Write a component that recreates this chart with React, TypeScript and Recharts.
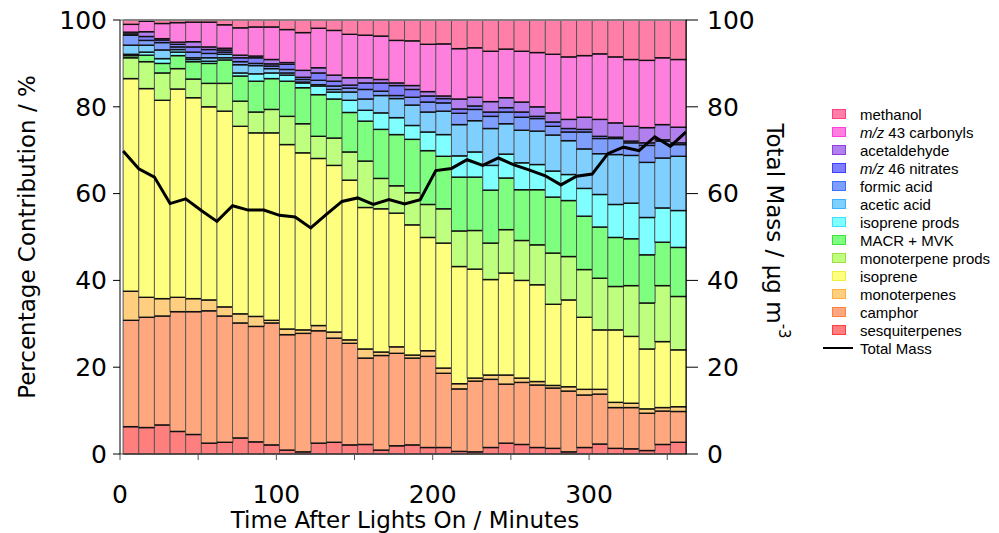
import React from "react";
import {
	Bar,
	ComposedChart,
	Legend,
	Line,
	ReferenceLine,
	XAxis,
	YAxis,
} from "recharts";

// bar midpoints, minutes after lights on
const minutes = [
	7, 17, 27, 37, 47, 57, 67, 77, 87, 97, 107, 117, 127, 137, 147, 157, 167, 177,
	187, 197, 207, 217, 227, 237, 247, 257, 267, 277, 287, 297, 307, 317, 327, 337,
	347, 357,
];

// total mass is logged at the bar edges
const massMinutes = [
	2, 12, 22, 32, 42, 52, 62, 72, 82, 92, 102, 112, 122, 132, 142, 152, 162, 172,
	182, 192, 202, 212, 222, 232, 242, 252, 262, 272, 282, 292, 302, 312, 322, 332,
	342, 352, 362,
];
const totalMass = [
	69.8, 65.7, 63.8, 57.7, 58.8, 56.1, 53.6, 57.2, 56.2, 56.2, 55.0, 54.6, 52.1,
	55.2, 58.2, 59.0, 57.5, 58.6, 57.6, 58.6, 65.3, 65.8, 67.8, 66.5, 68.2, 66.6,
	65.4, 64.1, 62.0, 64.0, 64.5, 69.2, 70.7, 69.9, 73.1, 70.9, 74.2,
];

// percentage contributions, bottom of the stack first
const sesquiterpenes = [
	6.3, 6.1, 6.7, 5.2, 4.5, 2.5, 2.7, 3.7, 2.8, 2.1, 0.9, 0.5, 2.5, 2.7, 2.1, 2.2,
	0.9, 1.9, 2.1, 1.5, 1.5, 0.6, 0.5, 1.5, 2.5, 2.2, 1.5, 1.3, 0.5, 1.5, 2.3, 1.3,
	1.2, 0.8, 2.2, 2.7,
];
const camphor = [
	24.5, 25.4, 25.1, 27.6, 28.3, 30.5, 29.1, 26.5, 26.6, 28.1, 26.6, 27.3, 25.9,
	24.0, 23.4, 19.9, 21.8, 21.3, 20.0, 21.0, 17.1, 14.4, 16.3, 15.7, 13.6, 14.3,
	14.4, 13.9, 14.0, 12.1, 11.5, 9.4, 9.5, 8.6, 7.7, 7.1,
];
const monoterpenes = [
	6.7, 4.6, 4.0, 3.3, 3.0, 2.5, 2.1, 2.1, 2.3, 0.6, 1.3, 0.8, 1.2, 1.4, 0.8, 2.1,
	0.8, 1.5, 0.7, 1.3, 1.2, 1.2, 0.7, 1.0, 2.1, 1.0, 0.8, 0.6, 1.0, 1.3, 1.1, 1.2,
	1.0, 1.0, 0.8, 1.1,
];
const isoprene = [
	49.0, 48.1, 45.7, 48.0, 46.3, 44.5, 45.1, 43.2, 42.3, 43.2, 42.5, 40.8, 38.5,
	38.4, 36.8, 32.6, 33.0, 30.8, 30.0, 26.1, 28.8, 27.0, 25.1, 22.0, 23.5, 22.5,
	22.3, 18.7, 20.0, 16.6, 13.7, 16.7, 15.4, 13.8, 15.2, 13.1,
];
const monoterpeneProds = [
	4.8, 6.2, 6.3, 4.7, 4.3, 5.4, 6.4, 5.8, 4.8, 5.4, 6.5, 6.7, 5.1, 6.3, 6.5, 10.7,
	7.0, 6.3, 7.4, 7.6, 7.9, 8.2, 8.9, 8.4, 10.0, 9.2, 9.2, 11.8, 10.0, 11.0, 11.9,
	10.0, 11.7, 10.6, 12.9, 12.3,
];
const macrMvk = [
	0.5, 1.5, 2.2, 3.0, 4.0, 4.6, 5.4, 5.8, 7.1, 7.1, 8.1, 8.3, 9.6, 9.0, 9.1, 9.2,
	11.3, 11.8, 12.3, 12.4, 12.1, 12.4, 12.3, 12.2, 11.9, 11.7, 12.7, 12.9, 12.9,
	12.3, 11.8, 11.3, 10.8, 11.1, 10.0, 11.3,
];
const isopreneProds = [
	0.3, 0.7, 1.1, 0.8, 0.5, 0.5, 0.5, 0.7, 1.7, 1.3, 1.4, 1.1, 2.0, 1.6, 2.8, 2.5,
	3.8, 3.9, 3.2, 4.3, 5.0, 4.9, 5.8, 5.7, 5.5, 6.2, 5.8, 6.0, 6.0, 6.4, 7.5, 7.6,
	8.2, 8.6, 7.9, 8.5,
];
const aceticAcid = [
	2.1, 1.6, 2.0, 0.6, 0.4, 0.8, 0.8, 1.9, 1.9, 1.0, 0.5, 0.2, 0.3, 0.6, 1.9, 2.6,
	4.0, 4.4, 4.7, 4.6, 5.4, 7.2, 7.2, 8.5, 7.0, 7.5, 7.7, 8.3, 7.8, 9.1, 9.4, 11.5,
	11.0, 12.7, 11.5, 12.5,
];
const formicAcid = [
	2.3, 1.1, 1.7, 0.6, 1.3, 1.0, 0.5, 0.7, 0.5, 0.6, 0.8, 0.6, 1.0, 0.8, 0.9, 2.2,
	1.0, 0.7, 1.8, 2.3, 1.9, 2.6, 2.6, 2.8, 2.7, 3.0, 2.9, 2.0, 2.0, 3.9, 3.5, 3.7,
	2.9, 3.9, 3.9, 2.7,
];
const nitrates46 = [
	0.3, 0.9, 0.6, 0.6, 1.2, 0.9, 0.5, 0.9, 1.3, 0.5, 1.2, 0.5, 1.7, 1.1, 0.7, 1.5,
	1.9, 2.3, 1.8, 1.4, 1.0, 1.0, 0.8, 1.0, 1.0, 1.2, 0.5, 1.0, 0.8, 0.6, 0.5, 0.3,
	0.4, 0.6, 0.3, 0.4,
];
const acetaldehyde = [
	0.4, 1.1, 0.3, 0.5, 1.2, 0.6, 0.4, 0.6, 0.4, 1.0, 0.4, 1.6, 1.2, 1.4, 1.7, 1.2,
	0.8, 0.6, 0.9, 1.0, 0.6, 2.3, 2.0, 2.4, 2.3, 2.3, 2.2, 2.1, 2.1, 2.8, 3.9, 3.3,
	3.4, 3.5, 3.5, 3.6,
];
const carbonyls43 = [
	1.8, 2.4, 3.5, 4.5, 4.5, 5.7, 5.4, 6.3, 6.7, 7.5, 7.6, 8.7, 9.1, 10.3, 10.0,
	9.8, 10.0, 9.8, 10.3, 10.9, 12.0, 11.6, 11.4, 11.6, 11.2, 11.7, 12.5, 13.5,
	14.4, 14.2, 15.1, 15.2, 15.4, 15.5, 15.4, 15.6,
];
const methanol = [
	1.0, 0.3, 0.8, 0.6, 0.5, 0.5, 1.1, 1.8, 1.6, 1.6, 2.2, 2.9, 1.9, 2.4, 3.3, 3.5,
	3.7, 4.7, 4.8, 5.6, 5.5, 6.6, 6.4, 7.2, 6.7, 7.2, 7.5, 7.9, 8.5, 8.2, 7.8, 8.5,
	9.1, 9.3, 8.7, 9.1,
];

const series = [
	{ key: "sesq", name: "sesquiterpenes", values: sesquiterpenes, fill: "#ff7f7f", edge: "#ff3f3f" },
	{ key: "camphor", name: "camphor", values: camphor, fill: "#ffa87f", edge: "#ff7f3f" },
	{ key: "mono", name: "monoterpenes", values: monoterpenes, fill: "#ffcf7f", edge: "#ffaf3f" },
	{ key: "isoprene", name: "isoprene", values: isoprene, fill: "#ffff7f", edge: "#efef3f" },
	{ key: "monoProds", name: "monoterpene prods", values: monoterpeneProds, fill: "#bfff7f", edge: "#9fdf3f" },
	{ key: "macr", name: "MACR + MVK", values: macrMvk, fill: "#7fff7f", edge: "#3fdf3f" },
	{ key: "isoProds", name: "isoprene prods", values: isopreneProds, fill: "#7fffff", edge: "#3fdfff" },
	{ key: "acetic", name: "acetic acid", values: aceticAcid, fill: "#7fcfff", edge: "#3fafff" },
	{ key: "formic", name: "formic acid", values: formicAcid, fill: "#7f9fff", edge: "#3f6fff" },
	{ key: "nitrates", name: "m/z 46 nitrates", values: nitrates46, fill: "#7f7fff", edge: "#3f3fff" },
	{ key: "acetald", name: "acetaldehyde", values: acetaldehyde, fill: "#b27fef", edge: "#8f3fdf" },
	{ key: "carbonyls", name: "m/z 43 carbonyls", values: carbonyls43, fill: "#ff7fdf", edge: "#ff3fdf" },
	{ key: "methanol", name: "methanol", values: methanol, fill: "#ff7fa8", edge: "#ff3f7f" },
];

const barData = minutes.map((m, i) => {
	const row: { [key: string]: number } = { minute: m };
	series.forEach((s) => {
		row[s.key] = s.values[i];
	});
	return row;
});

const massData = massMinutes.map((t, i) => ({ t, mass: totalMass[i] }));

const FONT = "'DejaVu Sans', sans-serif";
const tickStyle = { fontFamily: FONT, fontSize: 25, fill: "#000" };

function Segment(props: any) {
	const { x, y, width, height, fill } = props;
	if (height == null || isNaN(height)) return null;
	return (
		<g>
			<rect x={x} y={y} width={width} height={Math.max(height, 0)} fill={fill} />
			<line x1={x} x2={x} y1={y} y2={y + height} stroke="#555" strokeWidth={1} />
			<line x1={x + width} x2={x + width} y1={y} y2={y + height} stroke="#555" strokeWidth={1} />
			<line x1={x} x2={x + width} y1={y} y2={y} stroke="#111" strokeWidth={1.4} />
			<line x1={x} x2={x + width} y1={y + height} y2={y + height} stroke="#111" strokeWidth={1.4} />
		</g>
	);
}

function LegendName({ name }: { name: string }) {
	if (name.startsWith("m/z")) {
		return (
			<span>
				<i>m/z</i>
				{name.slice(3)}
			</span>
		);
	}
	return <span>{name}</span>;
}

function ChartLegend() {
	return (
		<div style={{ fontFamily: "'Liberation Sans', Arial, sans-serif", fontSize: 15, color: "#000" }}>
			{[...series].reverse().map((s) => (
				<div key={s.key} style={{ display: "flex", alignItems: "center", height: 18 }}>
					<div style={{ width: 38, display: "flex" }}>
						<div
							style={{
								marginLeft: 10,
								width: 12,
								height: 8,
								background: s.fill,
								border: `1px solid ${s.edge}`,
							}}
						/>
					</div>
					<LegendName name={s.name} />
				</div>
			))}
			<div style={{ display: "flex", alignItems: "center", height: 18 }}>
				<div style={{ width: 38, display: "flex" }}>
					<div style={{ marginLeft: 1, width: 30, height: 2.5, background: "#000" }} />
				</div>
				<span>Total Mass</span>
			</div>
		</div>
	);
}

function LeftTitle({ viewBox }: any) {
	const cx = viewBox.x + 27;
	const cy = viewBox.y + viewBox.height / 2;
	return (
		<text
			x={cx}
			y={cy}
			transform={`rotate(-90 ${cx} ${cy})`}
			textAnchor="middle"
			dominantBaseline="central"
			fontFamily={FONT}
			fontSize={23}
			fill="#000"
		>
			Percentage Contribution / %
		</text>
	);
}

function RightTitle({ viewBox }: any) {
	const cx = viewBox.x + 89;
	const cy = viewBox.y + viewBox.height / 2 - 6;
	return (
		<text
			x={cx}
			y={cy}
			transform={`rotate(90 ${cx} ${cy})`}
			textAnchor="middle"
			dominantBaseline="central"
			fontFamily={FONT}
			fontSize={23}
			fill="#000"
		>
			Total Mass / μg m
			<tspan fontSize={15} dy={-9}>
				-3
			</tspan>
		</text>
	);
}

function BottomTitle({ viewBox }: any) {
	return (
		<text
			x={viewBox.x + viewBox.width / 2 + 2}
			y={viewBox.y + 74}
			textAnchor="middle"
			fontFamily={FONT}
			fontSize={23}
			fill="#000"
		>
			Time After Lights On / Minutes
		</text>
	);
}

export default function App() {
	return (
		<div style={{ position: "absolute", left: 0, top: 0, width: 999, height: 533, background: "#fff" }}>
			<ComposedChart
				width={999}
				height={533}
				data={barData}
				barCategoryGap={0}
				barGap={0}
				margin={{ top: 20, right: 233, bottom: 29, left: 0 }}
			>
				<XAxis
					xAxisId="cat"
					dataKey="minute"
					type="category"
					orientation="top"
					height={0}
					hide
					padding={{ left: 3.1, right: 0 }}
				/>
				<XAxis
					xAxisId="time"
					dataKey="t"
					type="number"
					domain={[0, 362]}
					allowDataOverflow
					ticks={[0, 50, 100, 150, 200, 250, 300, 350]}
					tickFormatter={(v: number) => (v % 100 === 0 ? String(v) : "")}
					tick={tickStyle}
					tickSize={6}
					tickMargin={25}
					height={50}
					stroke="#555"
					label={{ content: BottomTitle }}
				/>
				<YAxis
					yAxisId="left"
					domain={[0, 100]}
					ticks={[0, 20, 40, 60, 80, 100]}
					tick={tickStyle}
					tickSize={7}
					tickMargin={6}
					width={120}
					stroke="#000"
					label={{ content: LeftTitle }}
				/>
				<YAxis
					yAxisId="right"
					orientation="right"
					domain={[0, 100]}
					ticks={[0, 20, 40, 60, 80, 100]}
					tick={tickStyle}
					tickSize={12}
					tickMargin={9}
					width={80}
					stroke="#000"
					label={{ content: RightTitle }}
				/>
				{series.map((s) => (
					<Bar
						key={s.key}
						xAxisId="cat"
						yAxisId="left"
						dataKey={s.key}
						name={s.name}
						stackId="voc"
						fill={s.fill}
						shape={Segment}
						isAnimationActive={false}
					/>
				))}
				<ReferenceLine yAxisId="left" xAxisId="cat" y={100} stroke="#999" strokeWidth={1.5} />
				<Line
					xAxisId="time"
					yAxisId="right"
					data={massData}
					dataKey="mass"
					name="Total Mass"
					stroke="#000"
					strokeWidth={3}
					dot={false}
					isAnimationActive={false}
				/>
				<Legend
					layout="vertical"
					align="center"
					verticalAlign="middle"
					content={ChartLegend}
					wrapperStyle={{ left: 822, top: 105, width: 177, height: 252 }}
				/>
			</ComposedChart>
		</div>
	);
}
